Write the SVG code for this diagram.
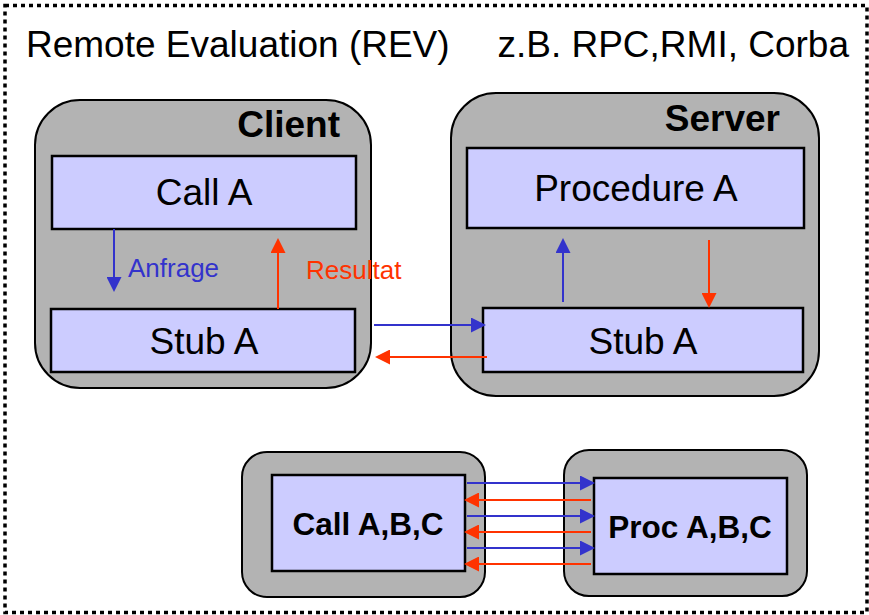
<svg xmlns="http://www.w3.org/2000/svg" width="869" height="615" viewBox="0 0 869 615">
  <style>
    .frame { fill: none; stroke: #000; stroke-width: 3.5; stroke-dasharray: 4 4; }
    .host { fill: #b3b3b3; stroke: #000; stroke-width: 2; }
    .box { fill: #ccccff; stroke: #000; stroke-width: 2.5; }
    .t { font-family: "Liberation Sans", Arial, sans-serif; fill: #000; }
    .big { font-size: 37px; }
    .bold { font-weight: bold; }
    .mid { text-anchor: middle; }
    .end { text-anchor: end; }
    .lbl { font-family: "Liberation Sans", Arial, sans-serif; font-size: 26px; }
    .req { stroke: #3333cc; stroke-width: 2; fill: none; }
    .res { stroke: #ff3300; stroke-width: 2; fill: none; }
  </style>
  <defs>
    <marker id="headBlue" viewBox="0 0 15 15" markerUnits="userSpaceOnUse" markerWidth="15" markerHeight="15" refX="12" refY="7.5" orient="auto">
      <path d="M0,0 L15,7.5 L0,15 Z" fill="#3333cc"/>
    </marker>
    <marker id="headRed" viewBox="0 0 15 15" markerUnits="userSpaceOnUse" markerWidth="15" markerHeight="15" refX="12" refY="7.5" orient="auto">
      <path d="M0,0 L15,7.5 L0,15 Z" fill="#ff3300"/>
    </marker>
  </defs>

  <rect width="869" height="615" fill="#fff"/>
  <rect class="frame" x="5" y="5.5" width="862" height="607"/>

  <text class="t big" x="26" y="57">Remote Evaluation (REV)</text>
  <text class="t big end" x="849" y="57">z.B. RPC,RMI, Corba</text>

  <!-- client host -->
  <g id="client">
    <rect class="host" x="35" y="100" width="336" height="288" rx="45" ry="45"/>
    <text class="t big bold end" x="340" y="137">Client</text>
  </g>
  <g id="client-call">
    <rect class="box" x="52" y="156" width="304" height="73"/>
    <text class="t big mid" x="204" y="205">Call A</text>
  </g>
  <g id="client-stub">
    <rect class="box" x="51" y="309" width="304" height="63"/>
    <text class="t big mid" x="204" y="354">Stub A</text>
  </g>

  <!-- server host -->
  <g id="server">
    <rect class="host" x="451" y="93" width="368" height="303" rx="45" ry="45"/>
    <text class="t big bold end" x="780" y="131">Server</text>
  </g>
  <g id="server-proc">
    <rect class="box" x="467" y="148" width="337" height="80"/>
    <text class="t big mid" x="636" y="201">Procedure A</text>
  </g>
  <g id="server-stub">
    <rect class="box" x="483" y="308" width="320" height="64"/>
    <text class="t big mid" x="643" y="354">Stub A</text>
  </g>

  <!-- batched calls -->
  <g id="multi-call">
    <rect class="host" x="242" y="452" width="243" height="145" rx="25" ry="25"/>
    <rect class="box" x="272" y="475" width="193" height="96"/>
    <text class="t bold mid" font-size="31.5" x="368" y="535">Call A,B,C</text>
  </g>
  <g id="multi-proc">
    <rect class="host" x="564" y="450" width="243" height="146" rx="25" ry="25"/>
    <rect class="box" x="594" y="478" width="193" height="96"/>
    <text class="t bold mid" font-size="31.5" x="690" y="538">Proc A,B,C</text>
  </g>

  <g id="connectors">
    <line class="req" x1="114" y1="229" x2="114" y2="289" marker-end="url(#headBlue)"/>
    <text class="lbl" x="128" y="277" fill="#3333cc">Anfrage</text>
    <line class="res" x1="278" y1="309" x2="278" y2="241" marker-end="url(#headRed)"/>
    <text class="lbl" x="306" y="279" fill="#ff3300">Resultat</text>

    <line class="req" x1="374" y1="325" x2="483" y2="325" marker-end="url(#headBlue)"/>
    <line class="res" x1="487" y1="357" x2="378" y2="357" marker-end="url(#headRed)"/>

    <line class="req" x1="563" y1="302" x2="563" y2="241" marker-end="url(#headBlue)"/>
    <line class="res" x1="709" y1="240" x2="709" y2="305" marker-end="url(#headRed)"/>

    <line class="req" x1="467" y1="483" x2="592" y2="483" marker-end="url(#headBlue)"/>
    <line class="res" x1="591" y1="500" x2="467" y2="500" marker-end="url(#headRed)"/>
    <line class="req" x1="467" y1="516" x2="592" y2="516" marker-end="url(#headBlue)"/>
    <line class="res" x1="591" y1="532" x2="467" y2="532" marker-end="url(#headRed)"/>
    <line class="req" x1="467" y1="548" x2="592" y2="548" marker-end="url(#headBlue)"/>
    <line class="res" x1="591" y1="564" x2="467" y2="564" marker-end="url(#headRed)"/>
  </g>
</svg>
